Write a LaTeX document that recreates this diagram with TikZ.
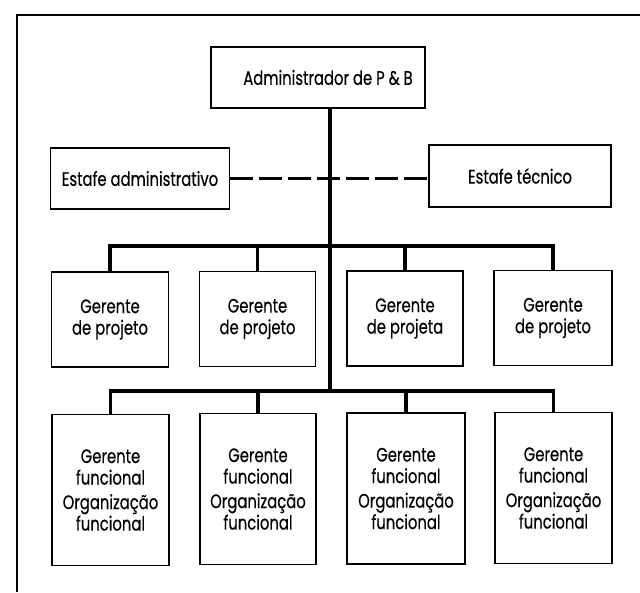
\documentclass[tikz,border=0pt]{standalone}
\usepackage{fontspec}
\setmainfont[FakeStretch=0.76,FakeBold=0.4]{Poppins}
\begin{document}
\begin{tikzpicture}[x=1pt,y=-1pt,
  box/.style={draw, line width=1.2pt, rectangle, inner sep=0pt, align=center,
    font=\fontsize{19.5}{21.5}\selectfont},
  conn/.style={line width=3.3pt, line join=miter},
  dashline/.style={line width=3.3pt, dash pattern=on 23pt off 6pt},
  frame/.style={line width=1.5pt}]
\useasboundingbox (0,0) rectangle (640,592);
\draw[frame] (17,592) -- (17,15) -- (640,15);
% top
\node[box, minimum width=214pt, minimum height=61pt] (adm) at (318,77.5) {\hspace*{20pt}Administrador de P \& B};
\node[box, minimum width=179pt, minimum height=61pt] (sa) at (140,178.5) {Estafe administrativo};
\node[box, minimum width=182pt, minimum height=62pt] (st) at (520,176) {Estafe técnico};
\coordinate (b1) at (330,246);
\coordinate (b2) at (330,391);
% project managers
\node[box, minimum width=117pt, minimum height=95pt] (p1) at (110,319.5) {Gerente\\de projeto};
\node[box, minimum width=116pt, minimum height=95pt] (p2) at (257.5,319) {Gerente\\de projeto};
\node[box, minimum width=116pt, minimum height=95pt] (p3) at (405,318.5) {Gerente\\de projeta};
\node[box, minimum width=118pt, minimum height=95pt] (p4) at (553,318) {Gerente\\de projeto};
% functional
\node[box, minimum width=117pt, minimum height=151pt] (f1) at (110.5,490) {Gerente\\funcional\\[3pt]Organização\\funcional};
\node[box, minimum width=116pt, minimum height=151pt] (f2) at (258,489) {Gerente\\funcional\\[3pt]Organização\\funcional};
\node[box, minimum width=118pt, minimum height=151pt] (f3) at (406,488.5) {Gerente\\funcional\\[3pt]Organização\\funcional};
\node[box, minimum width=117pt, minimum height=151pt] (f4) at (553.5,488) {Gerente\\funcional\\[3pt]Organização\\funcional};
% connectors
\draw[dashline] (sa.east) -- (sa.east -| st.west);
\draw[conn] (adm.south -| b1) -- (b2);
\draw[conn] (p1.north) -- (p1.north |- b1) -- (p4.north |- b1) -- (p4.north);
\draw[conn] (p2.north) -- (p2.north |- b1);
\draw[conn] (p3.north) -- (p3.north |- b1);
\draw[conn] (f1.north) -- (f1.north |- b2) -- (f4.north |- b2) -- (f4.north);
\draw[conn] (f2.north) -- (f2.north |- b2);
\draw[conn] (f3.north) -- (f3.north |- b2);
\end{tikzpicture}
\end{document}
